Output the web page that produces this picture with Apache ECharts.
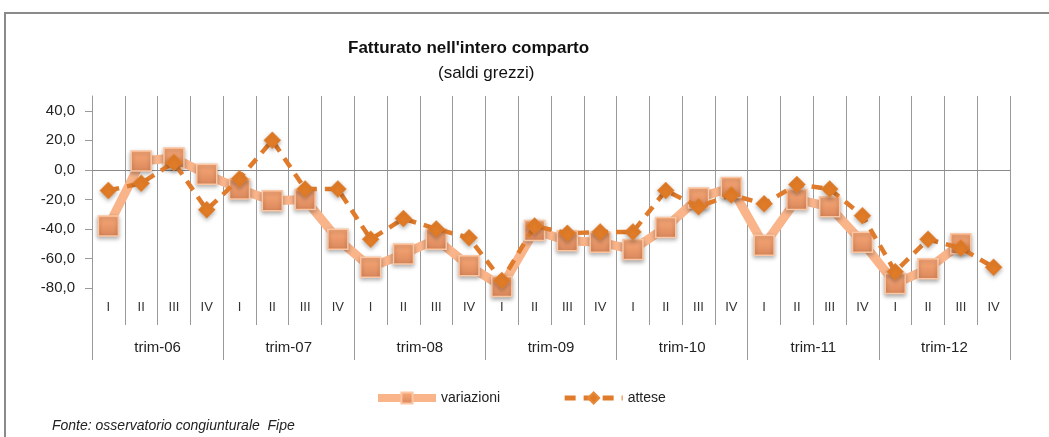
<!DOCTYPE html>
<html>
<head>
<meta charset="utf-8">
<script src="https://cdn.jsdelivr.net/npm/echarts@6/dist/echarts.min.js"></script>
<style>
	html, body { margin: 0; padding: 0; background: #fff; }
	#main { width: 1049px; height: 437px; }
</style>
</head>
<body>
<div id="main"></div>
<script>
var quarters = ['I','II','III','IV','I','II','III','IV','I','II','III','IV','I','II','III','IV',
	'I','II','III','IV','I','II','III','IV','I','II','III','IV'];
var years = ['trim-06','trim-07','trim-08','trim-09','trim-10','trim-11','trim-12'];
// variazioni: l'ultimo trimestre non c'è
var variazioni = [-38, 6, 8, -3, -13, -21, -20, -47, -66, -57, -47, -65, -79, -41,
	-48, -49, -54, -39, -19, -12, -51, -20, -25, -49, -77, -67, -50, null];
var attese = [-14, -9, 5, -27, -6, 20, -13, -13, -47, -33, -40, -46, -75, -38,
	-43, -42, -42, -14, -25, -17, -23, -10, -13, -31, -69, -47, -53, -66];
var yTicks = [-80, -60, -40, -20, 0, 20, 40];

var font = 'Liberation Sans';
var chart = echarts.init(document.getElementById('main'));

var option = {
	backgroundColor: '#fff',
	textStyle: { fontFamily: font },
	grid: { left: 92, right: 39, top: 96, bottom: 149 },
	legend: {
		left: 369,
		top: 386,
		itemWidth: 58,
		itemHeight: 14,
		itemGap: 62,
		textStyle: { fontSize: 14, color: '#222', fontFamily: font },
		data: [
			{ name: 'variazioni', lineStyle: { width: 8 } },
			{ name: 'attese', lineStyle: { width: 5 } }
		]
	},
	xAxis: [{
		type: 'category',
		data: quarters,
		position: 'bottom',
		axisLine: { show: false, onZero: false },
		axisTick: { show: true, interval: 0, length: 37, lineStyle: { color: '#9a9a9a' } },
		splitLine: { show: true, interval: 0, lineStyle: { color: '#9a9a9a', width: 1 } },
		axisLabel: { interval: 0, margin: 13, fontSize: 13, color: '#333' }
	}, {
		type: 'category',
		data: years,
		position: 'bottom',
		offset: 37,
		axisLine: { show: false, onZero: false },
		axisTick: { show: true, interval: 0, length: 35, lineStyle: { color: '#9a9a9a' } },
		axisLabel: { interval: 0, margin: 15, fontSize: 15, color: '#222' }
	}, {
		// linea dello zero
		type: 'category',
		data: quarters,
		position: 'bottom',
		axisLine: { show: true, onZero: true, lineStyle: { color: '#8a8a8a', width: 1 } },
		axisTick: { show: false },
		axisLabel: { show: false }
	}],
	yAxis: {
		type: 'value',
		min: -80,
		max: 50,
		interval: 20,
		axisLine: { show: true, lineStyle: { color: '#9a9a9a' } },
		axisTick: { show: true, length: 7, customValues: yTicks, lineStyle: { color: '#9a9a9a' } },
		splitLine: { show: false },
		axisLabel: {
			customValues: yTicks,
			margin: 17,
			fontSize: 15,
			color: '#222',
			formatter: function (v) { return v.toFixed(1).replace('.', ','); }
		}
	},
	series: [{
		name: 'variazioni',
		type: 'line',
		data: variazioni,
		symbol: 'rect',
		symbolSize: 20,
		z: 2,
		lineStyle: { color: '#F9B48A', width: 9 },
		itemStyle: {
			color: new echarts.graphic.LinearGradient(0, 0, 0, 1, [
				{ offset: 0, color: '#FBAA79' },
				{ offset: 1, color: '#D9875B' }
			]),
			borderColor: '#FCC6A2',
			borderWidth: 1.5,
			shadowColor: 'rgba(0,0,0,0.3)',
			shadowBlur: 4,
			shadowOffsetY: 2
		}
	}, {
		name: 'attese',
		type: 'line',
		data: attese,
		symbol: 'diamond',
		symbolSize: [17, 17],
		z: 3,
		lineStyle: { color: '#E07B2B', width: 4.5, type: [11, 8] },
		itemStyle: {
			color: '#E07B27',
			borderColor: '#E8893A',
			borderWidth: 0.5,
			shadowColor: 'rgba(0,0,0,0.3)',
			shadowBlur: 4,
			shadowOffsetY: 2
		}
	}],
	graphic: [{
		type: 'polyline',
		shape: { points: [[5, 437], [5, 13], [1049, 13]] },
		style: { stroke: '#8a8a8a', lineWidth: 2, fill: null },
		silent: true
	}, {
		type: 'text',
		left: 348,
		top: 40,
		style: { text: "Fatturato nell'intero comparto", font: 'bold 17px ' + font, fill: '#111' }
	}, {
		type: 'text',
		left: 438,
		top: 65,
		style: { text: '(saldi grezzi)', font: '17px ' + font, fill: '#111' }
	}, {
		type: 'text',
		left: 52,
		top: 419,
		style: { text: 'Fonte: osservatorio congiunturale  Fipe', font: 'italic 14px ' + font, fill: '#222' }
	}]
};

chart.setOption(option);
</script>
</body>
</html>
